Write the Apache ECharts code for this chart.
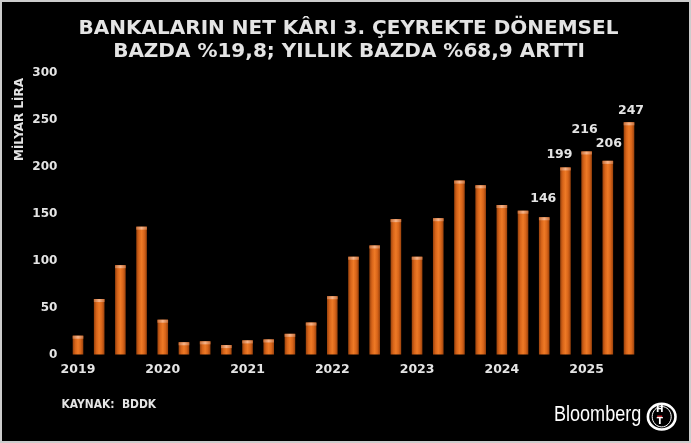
<!DOCTYPE html>
<html>
<head>
<meta charset="utf-8">
<script src="https://cdn.jsdelivr.net/npm/echarts@6/dist/echarts.min.js"></script>
<style>
html,body{margin:0;padding:0;background:#000;}
#c{width:691px;height:443px;}
</style>
</head>
<body>
<div id="c"></div>
<script>
// ---- data ----
var quarters = ['1Ç19','2Ç19','3Ç19','4Ç19','1Ç20','2Ç20','3Ç20','4Ç20','1Ç21','2Ç21','3Ç21','4Ç21',
  '1Ç22','2Ç22','3Ç22','4Ç22','1Ç23','2Ç23','3Ç23','4Ç23','1Ç24','2Ç24','3Ç24','4Ç24','1Ç25','2Ç25','3Ç25'];
var netProfit = [20, 59, 95, 136, 37, 13, 14, 10, 15, 16, 22, 34,
  62, 104, 116, 144, 104, 145, 185, 180, 159, 153, 146, 199, 216, 206, 247];
var yearLabels = ['2019','2020','2021','2022','2023','2024','2025'];
var labeledQuarters = ['3Ç24','4Ç24','1Ç25','2Ç25','3Ç25'];
var yTicks = [0, 50, 100, 150, 200, 250, 300];
var titleLines = ['BANKALARIN NET KÂRI 3. ÇEYREKTE DÖNEMSEL', 'BAZDA %19,8; YILLIK BAZDA %68,9 ARTTI'];

// ---- styling ----
var labelOffsets = {'3Ç24':[-1,-7], '4Ç24':[-6,-1], '1Ç25':[-2,-10], '2Ç25':[1,-6], '3Ç25':[2,0]};
var txt = '#e4e4e4';
var barGrad = new echarts.graphic.LinearGradient(0,0,1,0,[
  {offset:0,color:'#9a420c'},{offset:0.25,color:'#d8651a'},{offset:0.5,color:'#ee7a26'},
  {offset:0.75,color:'#d8651a'},{offset:1,color:'#9a420c'}]);
var capGrad = new echarts.graphic.LinearGradient(0,0,1,0,[
  {offset:0,color:'#c8703a'},{offset:0.5,color:'#f8b489'},{offset:1,color:'#c8703a'}]);

var barData = netProfit.map(function(v, i){
  var q = quarters[i];
  if (labeledQuarters.indexOf(q) >= 0) {
    return {value: v, label: {show: true, offset: labelOffsets[q]}};
  }
  return v;
});

var chart = echarts.init(document.getElementById('c'));
chart.setOption({
  backgroundColor: '#000',
  animation: false,
  grid: {left: 67.4, right: 51.4, top: 72.5, bottom: 88.5, containLabel: false},
  xAxis: {
    type: 'category', data: quarters,
    axisLine: {show: false}, axisTick: {show: false},
    axisLabel: {
      interval: 0, margin: 9, color: txt, fontFamily: 'DejaVu Sans', fontWeight: 'bold', fontSize: 12.5,
      formatter: function(v, i){ return i % 4 === 0 ? yearLabels[i / 4] : ''; }
    }
  },
  yAxis: {
    type: 'value', min: yTicks[0], max: yTicks[yTicks.length-1], interval: yTicks[1]-yTicks[0],
    splitLine: {show: false}, axisLine: {show: false}, axisTick: {show: false},
    axisLabel: {margin: 10, color: txt, fontFamily: 'DejaVu Sans', fontWeight: 'bold', fontSize: 12}
  },
  series: [
    {
      type: 'bar', data: barData, barWidth: '50%',
      itemStyle: {color: barGrad},
      label: {show: false, position: 'top', distance: 5, color: txt,
        fontFamily: 'DejaVu Sans', fontWeight: 'bold', fontSize: 12.5}
    },
    {
      type: 'pictorialBar', data: netProfit, symbol: 'rect', symbolSize: [10.6, 3],
      symbolPosition: 'end', symbolOffset: [0, 0], barGap: '-100%', z: 3,
      itemStyle: {color: capGrad}, silent: true
    }
  ],
  graphic: [
    {type: 'rect', shape: {x: 0, y: 0, width: 691, height: 443}, z: 100,
      style: {fill: 'none', stroke: '#cccccc', lineWidth: 4}},
    {type: 'text', x: 348.5, y: 28.5,
      style: {text: titleLines[0], fill: txt, font: 'bold 20px "DejaVu Sans"', align: 'center', verticalAlign: 'middle'}},
    {type: 'text', x: 349, y: 51.5,
      style: {text: titleLines[1], fill: txt, font: 'bold 20px "DejaVu Sans"', align: 'center', verticalAlign: 'middle'}},
    {type: 'text', x: 20, y: 119.5, rotation: Math.PI/2,
      style: {text: 'MİLYAR LİRA', fill: txt, font: 'bold 12px "DejaVu Sans"', align: 'center', verticalAlign: 'middle'}},
    {type: 'text', x: 61.5, y: 405, scaleX: 0.89,
      style: {text: 'KAYNAK:  BDDK', fill: txt, font: 'bold 12px "DejaVu Sans"', align: 'left', verticalAlign: 'middle'}},
    {type: 'text', x: 554, y: 415, scaleX: 0.82,
      style: {text: 'Bloomberg', fill: '#ffffff', font: '22px "Liberation Sans"', align: 'left', verticalAlign: 'middle'}},
    {type: 'group', x: 661.7, y: 416.7, children: [
      {type: 'ellipse', shape: {cx: 0, cy: 0, rx: 13.8, ry: 12.8}, style: {fill: 'none', stroke: '#fff', lineWidth: 2.6}},
      {type: 'ellipse', shape: {cx: 0, cy: 0, rx: 9.5, ry: 10.2}, style: {fill: 'none', stroke: '#fff', lineWidth: 1}},
      {type: 'text', x: -2, y: -7, style: {text: 'H', fill: '#fff', font: 'bold 9px "DejaVu Sans"', align: 'center', verticalAlign: 'middle'}},
      {type: 'rect', shape: {x: -4.5, y: -1.2, width: 5, height: 1.6}, style: {fill: '#c0272d'}},
      {type: 'text', x: -2, y: 5, style: {text: 'T', fill: '#fff', font: 'bold 9px "DejaVu Sans"', align: 'center', verticalAlign: 'middle'}}
    ]}
  ]
});
</script>
</body>
</html>
